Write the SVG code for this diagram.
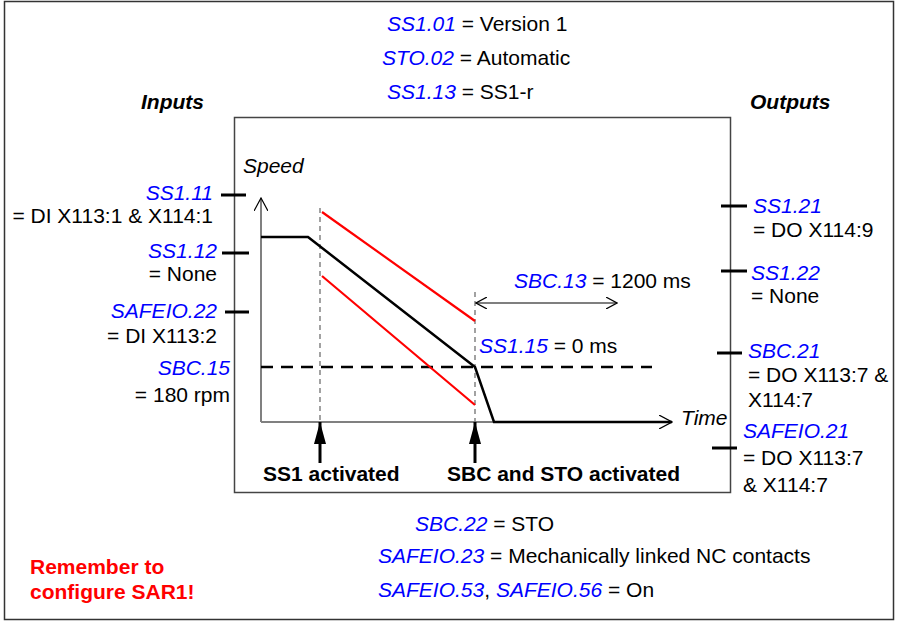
<svg xmlns="http://www.w3.org/2000/svg" width="898" height="621" viewBox="0 0 898 621">
<style>
text{font-family:"Liberation Sans",Arial,sans-serif;font-size:21px;fill:#000}
.p{fill:#0000ff;font-style:italic}
.it{font-style:italic}
.bi{font-style:italic;font-weight:bold}
.b{font-weight:bold}
.r{text-anchor:end}
.red{fill:#ff0000;font-weight:bold}
.tick{stroke:#000;stroke-width:3}
.ax{stroke:#808080;stroke-width:2;fill:none}
.vd{stroke:#707070;stroke-width:1.3;stroke-dasharray:5,4;fill:none}
</style>
<defs>
<marker id="open" viewBox="0 0 12 12" refX="11" refY="6" markerWidth="12" markerHeight="12" markerUnits="userSpaceOnUse" orient="auto-start-reverse">
<path d="M0,0 L11,6 L0,12" fill="none" stroke="#000" stroke-width="1.2"/>
</marker>
<marker id="openg" viewBox="0 0 14 14" refX="13" refY="7" markerWidth="14" markerHeight="14" markerUnits="userSpaceOnUse" orient="auto">
<path d="M0,0 L13,7 L0,14" fill="none" stroke="#000" stroke-width="1.2"/>
</marker>
<marker id="fill" viewBox="0 0 22 12" refX="22" refY="6" markerWidth="22" markerHeight="12" markerUnits="userSpaceOnUse" orient="auto">
<path d="M0,0 L22,6 L0,12 Z" fill="#000"/>
</marker>
</defs>
<rect x="4.5" y="1.5" width="889" height="618" fill="#fff" stroke="#333" stroke-width="1.5"/>
<rect id="chart" x="234.5" y="117.5" width="496" height="375" fill="none" stroke="#444" stroke-width="1.5"/>

<g id="header">
<text x="387" y="31"><tspan class="p">SS1.01</tspan> = Version 1</text>
<text x="382" y="65"><tspan class="p">STO.02</tspan> = Automatic</text>
<text x="387" y="99"><tspan class="p">SS1.13</tspan> = SS1-r</text>
<text class="bi" x="141" y="109">Inputs</text>
<text class="bi" x="750" y="109">Outputs</text>
</g>

<g id="connectors">
<line class="ax" x1="261" y1="422" x2="261" y2="198" marker-end="url(#openg)"/>
<line class="ax" x1="261" y1="422" x2="672" y2="422" marker-end="url(#openg)"/>
<line class="vd" x1="320" y1="208" x2="320" y2="422"/>
<line class="vd" x1="475" y1="292" x2="475" y2="422"/>
<line x1="261" y1="367" x2="652" y2="367" stroke="#000" stroke-width="2.5" stroke-dasharray="12,8"/>
<line x1="322" y1="212" x2="475" y2="321" stroke="#ff0000" stroke-width="2.2"/>
<line x1="322" y1="276" x2="475" y2="405" stroke="#ff0000" stroke-width="2.2"/>
<polyline points="261,237 308,237 475,367 494,422 672,422" fill="none" stroke="#000" stroke-width="2.5"/>
<line x1="476" y1="303" x2="617" y2="303" stroke="#000" stroke-width="1.2" marker-start="url(#open)" marker-end="url(#open)"/>
<line x1="320" y1="463" x2="320" y2="422" stroke="#000" stroke-width="3" marker-end="url(#fill)"/>
<line x1="475" y1="463" x2="475" y2="422" stroke="#000" stroke-width="3" marker-end="url(#fill)"/>
<line class="tick" x1="221" y1="195" x2="246" y2="195"/>
<line class="tick" x1="222" y1="253" x2="249" y2="253"/>
<line class="tick" x1="225" y1="312" x2="249" y2="312"/>
<line class="tick" x1="721" y1="206" x2="747" y2="206"/>
<line class="tick" x1="721" y1="271" x2="747" y2="271"/>
<line class="tick" x1="717" y1="353" x2="742" y2="353"/>
<line class="tick" x1="712" y1="448" x2="737" y2="448"/>
</g>

<g id="chart-labels">
<text class="it" x="243" y="173">Speed</text>
<text class="it" x="681" y="425">Time</text>
<text x="514" y="288"><tspan class="p">SBC.13</tspan> = 1200 ms</text>
<text x="479" y="353"><tspan class="p">SS1.15</tspan> = 0 ms</text>
<text class="b" x="263" y="481">SS1 activated</text>
<text class="b" x="447" y="481">SBC and STO activated</text>
</g>

<g id="inputs">
<text class="p r" x="213" y="200">SS1.11</text>
<text class="r" x="213" y="223">= DI X113:1 &amp; X114:1</text>
<text class="p r" x="217" y="258">SS1.12</text>
<text class="r" x="217" y="281">= None</text>
<text class="p r" x="217" y="318">SAFEIO.22</text>
<text class="r" x="217" y="343">= DI X113:2</text>
<text class="p r" x="230" y="375">SBC.15</text>
<text class="r" x="230" y="402">= 180 rpm</text>
</g>

<g id="outputs">
<text class="p" x="753" y="213">SS1.21</text>
<text x="753" y="237">= DO X114:9</text>
<text class="p" x="751" y="280">SS1.22</text>
<text x="751" y="303">= None</text>
<text class="p" x="748" y="358">SBC.21</text>
<text x="748" y="382">= DO X113:7 &amp;</text>
<text x="748" y="407">X114:7</text>
<text class="p" x="743" y="438">SAFEIO.21</text>
<text x="743" y="465">= DO X113:7</text>
<text x="743" y="492">&amp; X114:7</text>
</g>

<g id="footer">
<text x="415" y="531"><tspan class="p">SBC.22</tspan> = STO</text>
<text x="378" y="563"><tspan class="p">SAFEIO.23</tspan> = Mechanically linked NC contacts</text>
<text x="378" y="597"><tspan class="p">SAFEIO.53</tspan>, <tspan class="p">SAFEIO.56</tspan> = On</text>
<text class="red" x="30" y="574">Remember to</text>
<text class="red" x="30" y="599">configure SAR1!</text>
</g>
</svg>
